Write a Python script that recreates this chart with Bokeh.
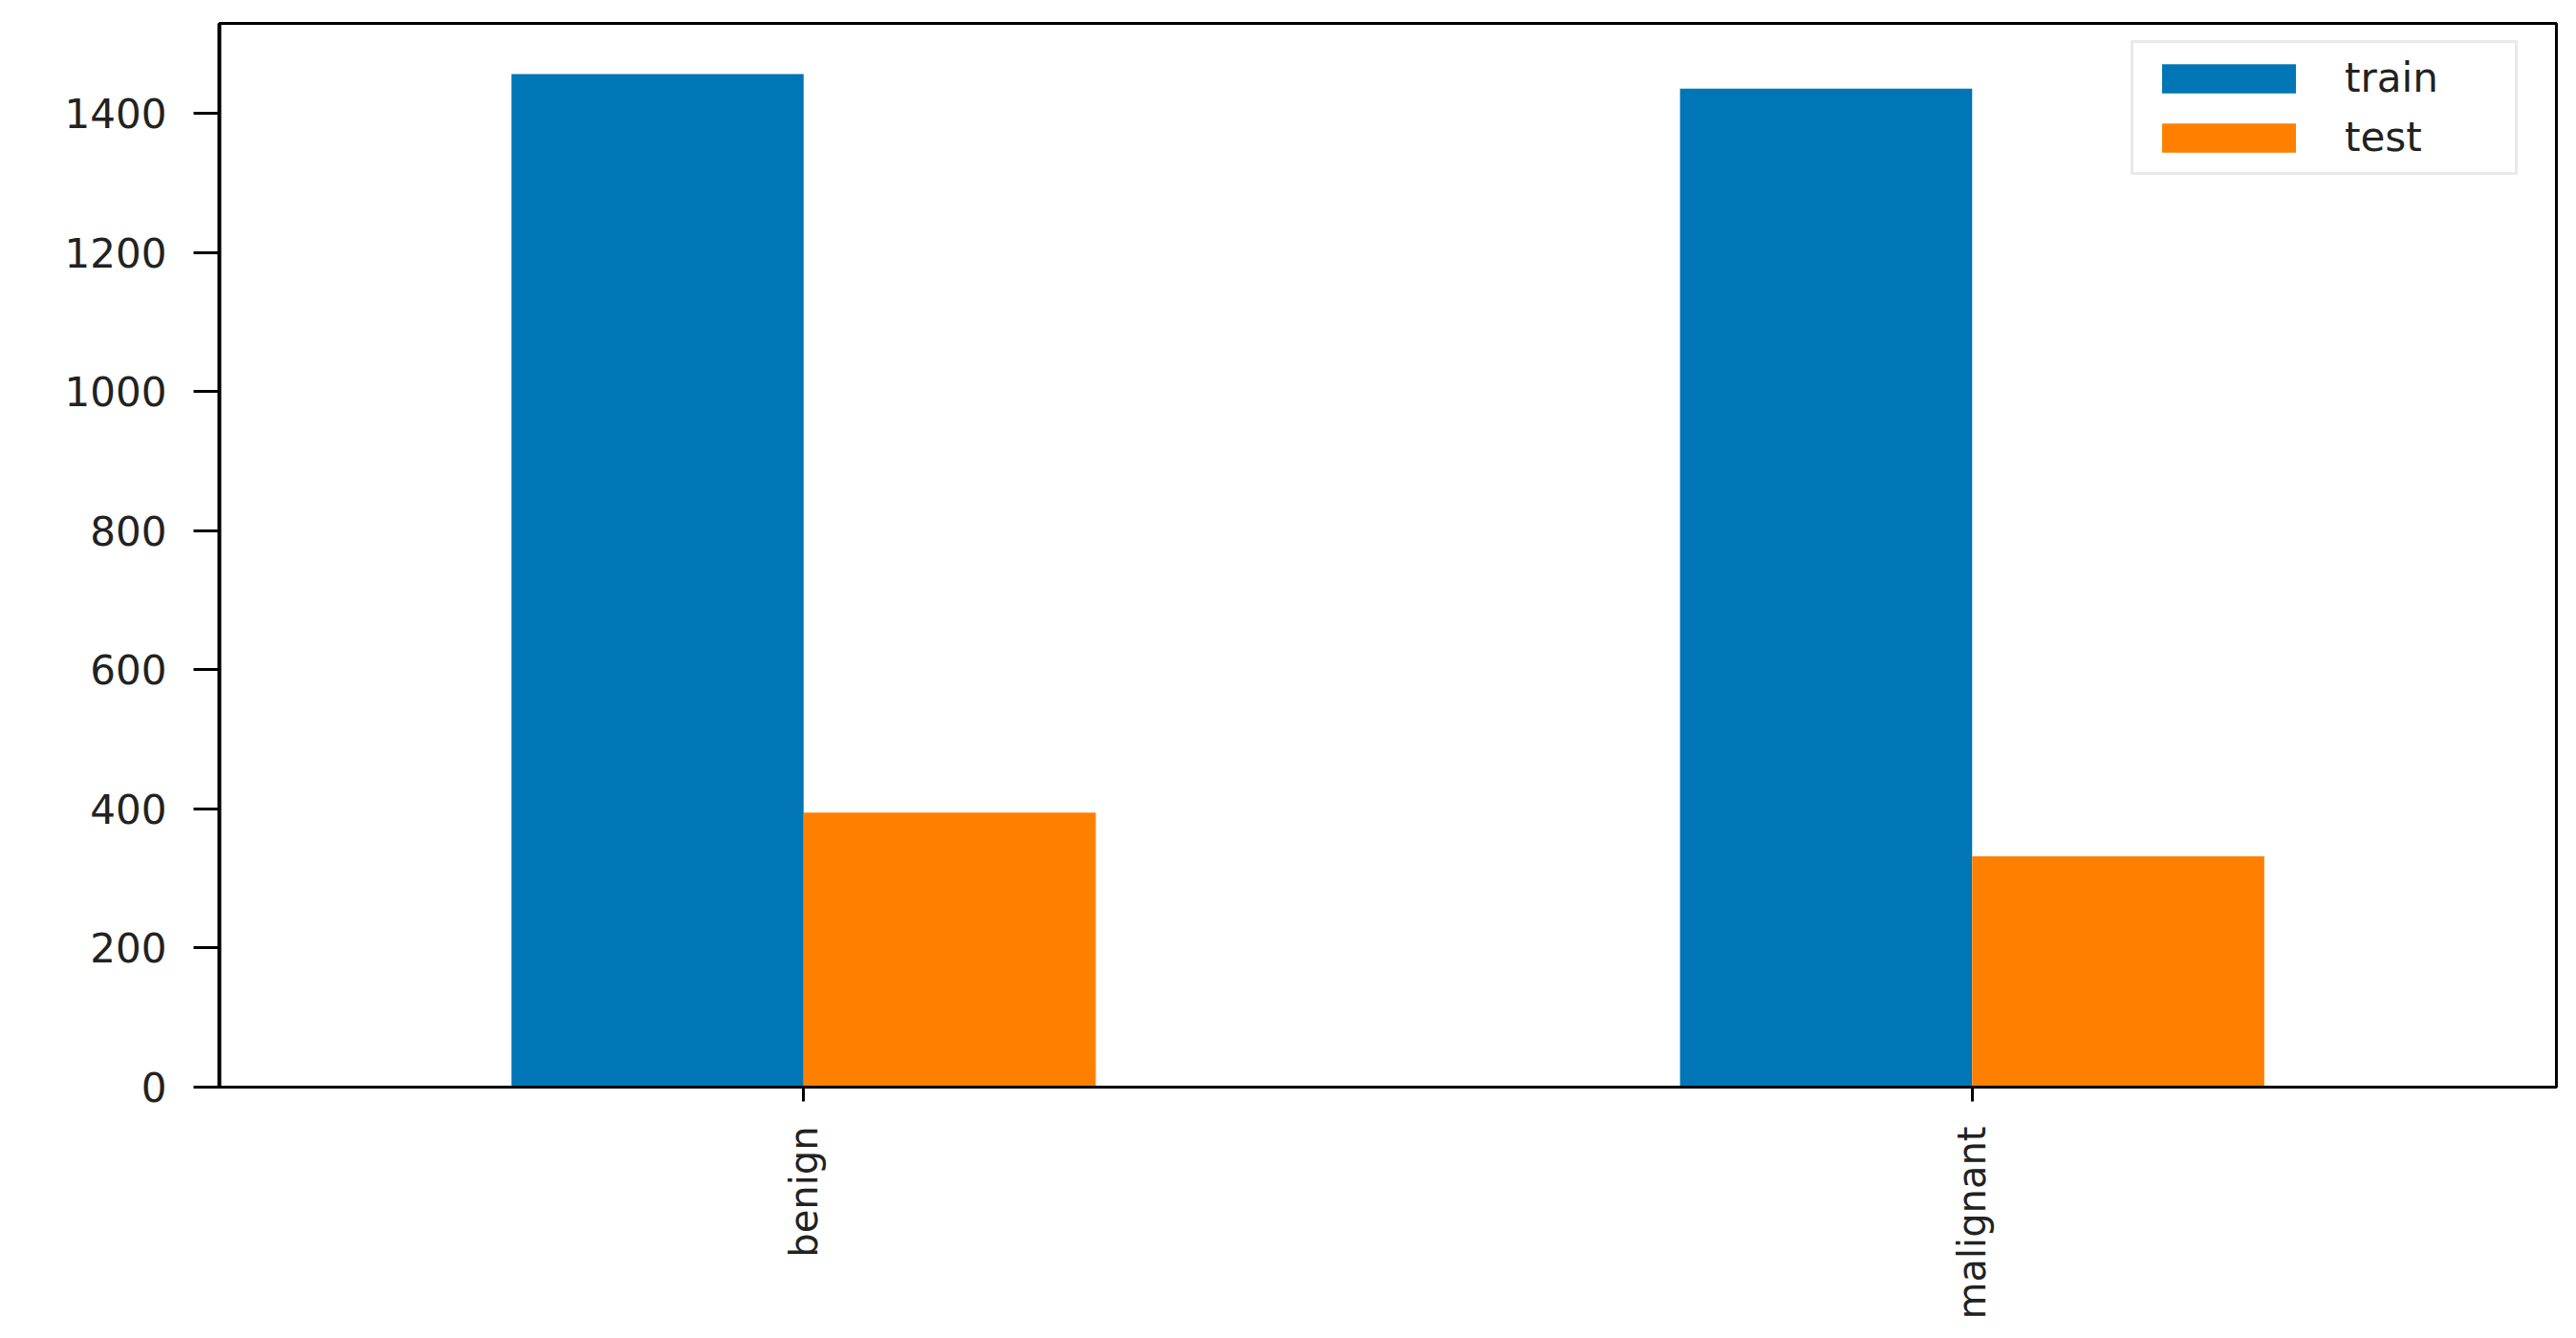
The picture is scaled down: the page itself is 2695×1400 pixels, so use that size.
import math
from bokeh.plotting import figure
from bokeh.models import FactorRange, Range1d, FixedTicker, ColumnDataSource
from bokeh.transform import dodge
from bokeh.embed import file_html
from bokeh.resources import INLINE

categories = ["benign", "malignant"]
series_names = ["train", "test"]
train_counts = [1457, 1436]
test_counts = [395, 332]
y_ticks = [0, 200, 400, 600, 800, 1000, 1200, 1400]

TRAIN_COLOR = "#0076B6"
TEST_COLOR = "#FF8000"
FONT = "DejaVu Sans"

src = ColumnDataSource(dict(cat=categories, train=train_counts, test=test_counts))

p = figure(
    width=2679, height=1384,
    x_range=FactorRange(factors=categories, range_padding=0),
    y_range=Range1d(0, max(train_counts) * 1.05),
    output_backend="svg", toolbar_location=None,
    min_border_left=229, min_border_top=24, min_border_right=5, min_border_bottom=247,
)

bar_w = 0.25
p.vbar(x=dodge("cat", -bar_w / 2, range=p.x_range), top="train", width=bar_w,
       source=src, fill_color=TRAIN_COLOR, line_color=None, legend_label=series_names[0])
p.vbar(x=dodge("cat", bar_w / 2, range=p.x_range), top="test", width=bar_w,
       source=src, fill_color=TEST_COLOR, line_color=None, legend_label=series_names[1])

p.xgrid.visible = False
p.ygrid.visible = False

p.outline_line_color = "black"
p.outline_line_width = 3
p.outline_line_alpha = 1.0

p.yaxis.ticker = FixedTicker(ticks=y_ticks)
p.yaxis.minor_tick_line_color = None
p.yaxis.major_tick_out = 27
p.yaxis.major_tick_in = 0
p.yaxis.major_tick_line_width = 3
p.yaxis.axis_line_width = 4
p.yaxis.major_label_standoff = 28
p.yaxis.major_label_text_font = FONT
p.yaxis.major_label_text_font_size = "42px"
p.yaxis.major_label_text_color = "#222222"

p.xaxis.major_tick_out = 15
p.xaxis.major_tick_in = 0
p.xaxis.major_tick_line_width = 3
p.xaxis.axis_line_width = 3
p.xaxis.major_label_orientation = math.pi / 2
p.xaxis.major_label_standoff = 26
p.xaxis.major_label_text_font = FONT
p.xaxis.major_label_text_font_size = "40px"
p.xaxis.major_label_text_color = "#222222"

leg = p.legend[0]
leg.location = (2000, 954)
leg.margin = 0
leg.padding = 12
leg.spacing = 13
leg.glyph_width = 175
leg.glyph_height = 38
leg.label_standoff = 34
leg.label_width = 166
leg.label_text_font = FONT
leg.label_text_font_size = "42px"
leg.label_text_color = "#222222"
leg.border_line_color = "#d4d4d4"
leg.border_line_width = 3
leg.background_fill_color = "white"
leg.background_fill_alpha = 1.0

open("out.html", "w").write(file_html(p, INLINE))
